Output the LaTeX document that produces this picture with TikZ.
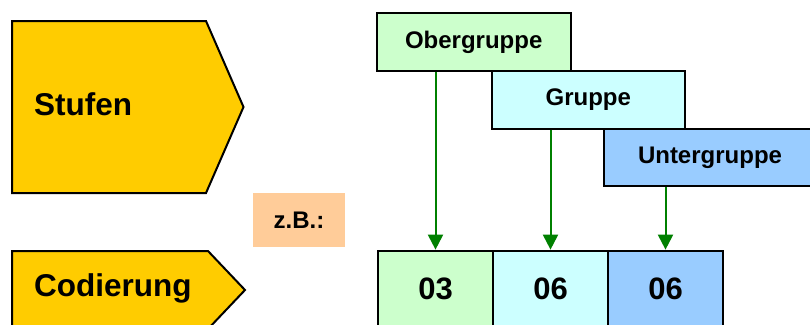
\documentclass[tikz,border=0pt]{standalone}
\usepackage{fontspec}
\setmainfont{Liberation Sans}
\usetikzlibrary{arrows.meta}
\definecolor{stagefill}{HTML}{FFCC00}
\definecolor{obergr}{HTML}{CCFFCC}
\definecolor{gruppe}{HTML}{CCFFFF}
\definecolor{untergr}{HTML}{99CCFF}
\definecolor{zbfill}{HTML}{FFCC99}
\definecolor{arrowgreen}{HTML}{008000}
\tikzset{
  stage/.style={draw=black, line width=2pt, fill=stagefill, line join=miter},
  bigtext/.style={inner sep=0pt, font=\fontsize{31.5}{38}\selectfont\bfseries},
  grpbox/.style={draw=black, line width=2pt, rectangle, inner sep=0pt,
    font=\fontsize{24}{29}\selectfont\bfseries},
  codebox/.style={draw=black, line width=2pt, rectangle, inner sep=0pt,
    minimum width=115pt, minimum height=78.3pt,
    font=\fontsize{31}{37}\selectfont\bfseries},
  conn/.style={draw=arrowgreen, line width=2pt,
    -{Triangle[width=15pt,length=15pt]}},
}
\begin{document}
\begin{tikzpicture}[x=1pt, y=-1pt]
\useasboundingbox (0,0) rectangle (810,324);
\clip (0,0) rectangle (810,324);

% level and coding arrows on the left
\draw[stage] (12,21) -- (206,21) -- (243.5,107) -- (206,193) -- (12,193) -- cycle;
\node[bigtext, anchor=base west] (stufen) at (34,115.7) {Stufen};
\draw[stage] (12,251) -- (208,251) -- (245,290) -- (208,329) -- (12,329) -- cycle;
\node[bigtext, anchor=base west] (codierung) at (34,296.7) {Codierung};

% example tag
\node[fill=zbfill, rectangle, inner sep=0pt, minimum width=92pt, minimum height=54pt,
  font=\fontsize{24}{29}\selectfont\bfseries] (zb) at (299,220) {z.B.:};

% hierarchy levels
\node[grpbox, fill=obergr, minimum width=194pt, minimum height=58pt] (ober) at (473.7,42.3) {Obergruppe};
\node[grpbox, fill=gruppe, minimum width=193pt, minimum height=58pt] (grp) at (588.3,99.7) {Gruppe};
\node[grpbox, fill=untergr, minimum width=212pt, minimum height=56.7pt] (unter) at (710,157.7) {Untergruppe};

% code digits
\node[codebox, fill=obergr] (c1) at (435.5,289.8) {\raisebox{2.5pt}{03}};
\node[codebox, fill=gruppe] (c2) at (550.5,289.8) {\raisebox{2.5pt}{06}};
\node[codebox, fill=untergr] (c3) at (665.5,289.8) {\raisebox{2.5pt}{06}};

% connectors from each level to its code position
\draw[conn] (c1.north |- ober.south) -- (c1.north);
\draw[conn] (c2.north |- grp.south) -- (c2.north);
\draw[conn] (c3.north |- unter.south) -- (c3.north);
\end{tikzpicture}
\end{document}
